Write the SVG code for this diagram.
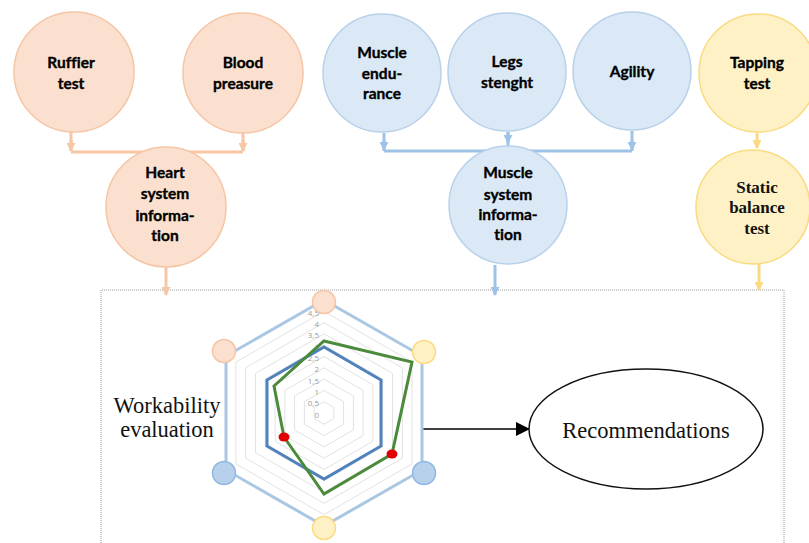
<svg xmlns="http://www.w3.org/2000/svg" width="809" height="543" viewBox="0 0 809 543">
<style>
.nd{font-family:Lato,"Open Sans","Liberation Sans",sans-serif;font-weight:bold;font-size:15.5px;fill:#000;stroke:#000;stroke-width:0.35;text-anchor:middle;font-variant-ligatures:none}
.ser{font-family:"Liberation Serif","Times New Roman",serif;font-weight:bold;font-size:17px;fill:#111;text-anchor:middle}
.peach{fill:#fbe0cf;stroke:#f6c5a5;stroke-width:1.5}
.blue{fill:#dbe8f5;stroke:#b8d1ea;stroke-width:1.5}
.yel{fill:#fef1c6;stroke:#fadb80;stroke-width:1.5}
.cp{stroke:#f7c6a4;stroke-width:3;fill:none}
.cb{stroke:#9fc3e6;stroke-width:3;fill:none}
.cy{stroke:#fbd97e;stroke-width:3;fill:none}
.grid{fill:none;stroke:#e2e2e2;stroke-width:1}
.tick{font-family:"Open Sans","Liberation Sans",sans-serif;font-size:8px;fill:#9a9a9a;text-anchor:end}
.big{font-family:"Liberation Serif","Times New Roman",serif;font-size:22.5px;fill:#111;text-anchor:middle}
</style>
<defs>
<marker id="ap" viewBox="0 0 10 10" refX="9" refY="5" markerWidth="3" markerHeight="3" orient="auto" markerUnits="strokeWidth"><path d="M0,0 L10,5 L0,10 z" fill="#f7c6a4"/></marker>
<marker id="ab" viewBox="0 0 10 10" refX="9" refY="5" markerWidth="3" markerHeight="3" orient="auto" markerUnits="strokeWidth"><path d="M0,0 L10,5 L0,10 z" fill="#9fc3e6"/></marker>
<marker id="ay" viewBox="0 0 10 10" refX="9" refY="5" markerWidth="3" markerHeight="3" orient="auto" markerUnits="strokeWidth"><path d="M0,0 L10,5 L0,10 z" fill="#fbd97e"/></marker>
<marker id="ak" viewBox="0 0 10 10" refX="10" refY="5" markerWidth="14" markerHeight="14" orient="auto" markerUnits="userSpaceOnUse"><path d="M0,0 L10,5 L0,10 z" fill="#000"/></marker>
</defs>

<!-- dotted frame -->
<path d="M101,543 V290 H784 V543" fill="none" stroke="#9a9a9a" stroke-width="1" stroke-dasharray="1,1"/>

<g id="connectors">
<path class="cp" d="M71,132 V151 M243,132 V151 M71,152 H243"/>
<path class="cp" d="M71,140 V151" marker-end="url(#ap)"/>
<path class="cp" d="M243,140 V151" marker-end="url(#ap)"/>
<path class="cp" d="M166,266 V295" marker-end="url(#ap)"/>
<path class="cb" d="M384,133 V151 M508,132 V151 M632,131 V151 M384,151 H632"/>
<path class="cb" d="M384,140 V150" marker-end="url(#ab)"/>
<path class="cb" d="M508,132 V143" marker-end="url(#ab)"/>
<path class="cb" d="M632,140 V150" marker-end="url(#ab)"/>
<path class="cb" d="M495,265 V295" marker-end="url(#ab)"/>
<path class="cy" d="M757,133 V148" marker-end="url(#ay)"/>
<path class="cy" d="M759,264 V290" marker-end="url(#ay)"/>
<path d="M422,429 H530" stroke="#000" stroke-width="1.5" fill="none" marker-end="url(#ak)"/>
</g>

<g id="ruffier"><circle class="peach" cx="74" cy="72" r="60"/><text class="nd" x="71" y="68">Ruffier</text><text class="nd" x="71" y="89">test</text></g>
<g id="blood"><circle class="peach" cx="243" cy="73" r="60"/><text class="nd" x="243" y="68">Blood</text><text class="nd" x="243" y="89">preasure</text></g>
<g id="heart"><circle class="peach" cx="166" cy="207" r="60"/><text class="nd" x="165" y="178">Heart</text><text class="nd" x="165" y="199">system</text><text class="nd" x="165" y="221">informa-</text><text class="nd" x="165" y="241">tion</text></g>

<g id="endurance"><circle class="blue" cx="382" cy="73" r="59"/><text class="nd" x="382" y="58">Muscle</text><text class="nd" x="382" y="79">endu-</text><text class="nd" x="382" y="99">rance</text></g>
<g id="legs"><circle class="blue" cx="507" cy="72" r="59"/><text class="nd" x="507" y="67">Legs</text><text class="nd" x="507" y="88">stenght</text></g>
<g id="agility"><circle class="blue" cx="632" cy="71" r="59"/><text class="nd" x="632" y="77">Agility</text></g>
<g id="muscle"><circle class="blue" cx="508" cy="205" r="59"/><text class="nd" x="508" y="178">Muscle</text><text class="nd" x="508" y="200">system</text><text class="nd" x="508" y="220">informa-</text><text class="nd" x="508" y="240">tion</text></g>

<g id="tapping"><circle class="yel" cx="758" cy="73" r="59"/><text class="nd" x="757" y="68">Tapping</text><text class="nd" x="757" y="89">test</text></g>
<g id="static"><circle class="yel" cx="753" cy="207" r="57"/><text class="ser" x="757" y="193">Static</text><text class="ser" x="757" y="213">balance</text><text class="ser" x="757" y="234">test</text></g>

<g id="radar">
<g transform="translate(324,413)">
<polygon class="grid" points="0,-11.3 9.8,-5.65 9.8,5.65 0,11.3 -9.8,5.65 -9.8,-5.65"/>
<polygon class="grid" points="0,-22.6 19.6,-11.3 19.6,11.3 0,22.6 -19.6,11.3 -19.6,-11.3"/>
<polygon class="grid" points="0,-33.9 29.4,-17 29.4,17 0,33.9 -29.4,17 -29.4,-17"/>
<polygon class="grid" points="0,-45.2 39.1,-22.6 39.1,22.6 0,45.2 -39.1,22.6 -39.1,-22.6"/>
<polygon class="grid" points="0,-56.5 48.9,-28.3 48.9,28.3 0,56.5 -48.9,28.3 -48.9,-28.3"/>
<polygon class="grid" points="0,-67.8 58.7,-33.9 58.7,33.9 0,67.8 -58.7,33.9 -58.7,-33.9"/>
<polygon class="grid" points="0,-79.1 68.5,-39.6 68.5,39.6 0,79.1 -68.5,39.6 -68.5,-39.6"/>
<polygon class="grid" points="0,-90.4 78.3,-45.2 78.3,45.2 0,90.4 -78.3,45.2 -78.3,-45.2"/>
<polygon class="grid" points="0,-101.7 88.1,-50.9 88.1,50.9 0,101.7 -88.1,50.9 -88.1,-50.9"/>
<polygon points="0,-113 98,-57 98,57 0,113 -98,57 -98,-57" fill="none" stroke="#a9c6e3" stroke-width="3"/>
</g>
<text class="tick" x="319" y="418">0</text>
<text class="tick" x="319" y="406">0,5</text>
<text class="tick" x="319" y="395">1</text>
<text class="tick" x="319" y="384">1,5</text>
<text class="tick" x="319" y="372">2</text>
<text class="tick" x="319" y="361">2,5</text>
<text class="tick" x="319" y="350">3</text>
<text class="tick" x="319" y="338">3,5</text>
<text class="tick" x="319" y="327">4</text>
<text class="tick" x="319" y="316">4,5</text>
<text class="tick" x="319" y="304">5</text>
<polygon points="324,347 381,380 381,446 324,479 267,446 267,380" fill="none" stroke="#4f81bd" stroke-width="3"/>
<polygon points="324,341 412,362 392,454 324,494 284,437 274,386" fill="none" stroke="#4a8a3a" stroke-width="3"/>
<ellipse cx="284" cy="437" rx="5.5" ry="4.5" fill="#e00000"/>
<ellipse cx="392" cy="454" rx="5.5" ry="4.5" fill="#e00000"/>
<circle class="peach" cx="324" cy="302" r="11.5"/>
<circle class="peach" cx="224" cy="351" r="11.5"/>
<circle class="yel" cx="424" cy="352" r="11.5"/>
<circle fill="#b7d1ed" stroke="#91b8e2" stroke-width="1.5" cx="424" cy="473" r="11.5"/>
<circle fill="#b7d1ed" stroke="#91b8e2" stroke-width="1.5" cx="224" cy="473" r="11.5"/>
<circle class="yel" cx="324" cy="528" r="11.5"/>
</g>

<g id="workability"><text class="big" x="167" y="413">Workability</text><text class="big" x="167" y="437">evaluation</text></g>

<g id="recommendations"><ellipse cx="646" cy="429" rx="117" ry="60" fill="#fff" stroke="#111" stroke-width="1.5"/><text class="big" x="646" y="438">Recommendations</text></g>
</svg>
